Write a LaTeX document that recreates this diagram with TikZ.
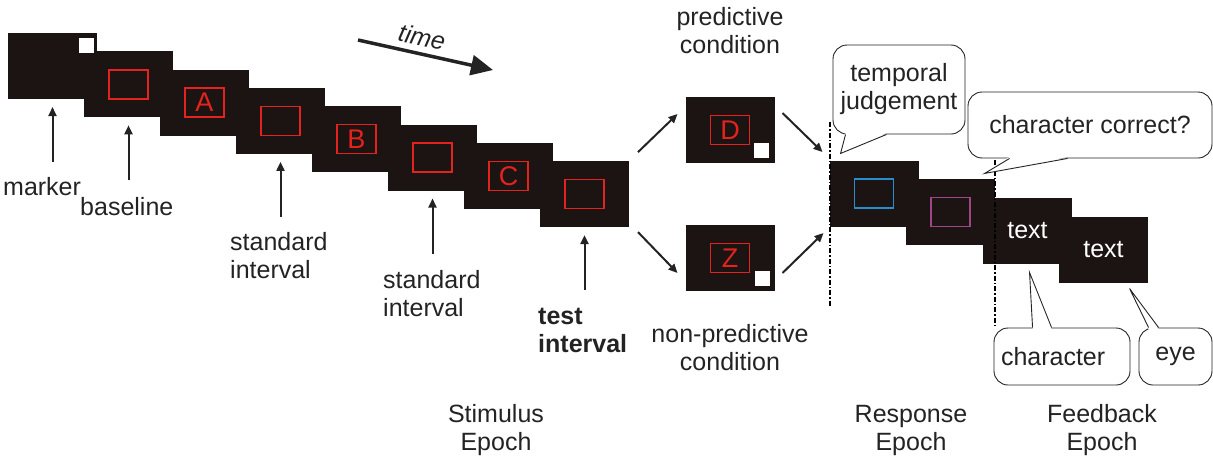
\documentclass[tikz,border=0pt]{standalone}
\usepackage{fontspec}
\setmainfont{Liberation Sans}
\usetikzlibrary{arrows.meta,calc}
\definecolor{scr}{RGB}{28,20,18}
\definecolor{redc}{RGB}{228,34,30}
\definecolor{bluec}{RGB}{40,140,205}
\definecolor{purc}{RGB}{160,70,135}
\definecolor{txt}{RGB}{35,35,35}
\newcommand\labfont{\fontsize{25}{28}\selectfont}
\begin{document}
\begin{tikzpicture}[x=1pt,y=-1pt,font=\labfont,text=txt,
  screen/.style={fill=scr,minimum width=89pt,minimum height=66pt,inner sep=0pt,outer sep=0pt},
  rbox/.style={draw=redc,line width=1.4pt,minimum width=39pt,minimum height=29pt,inner sep=0pt,text=redc,font=\fontsize{27}{27}\selectfont},
  cbox/.style={line width=1.4pt,minimum width=39pt,minimum height=29pt,inner sep=0pt},
  wsq/.style={fill=white,minimum width=15pt,minimum height=15pt,inner sep=0pt},
  upar/.style={draw=txt,line width=2pt,-{Triangle[length=9pt,width=8pt]}},
  dar/.style={draw=txt,line width=2pt,-{Triangle[length=9pt,width=8pt]}},
  lab/.style={anchor=base west,inner sep=0pt,align=left},
  clab/.style={anchor=base,inner sep=0pt,align=center},
  callout/.style={draw=txt,line width=0.9pt,fill=white,rounded corners=14pt,inner sep=0pt,align=center},
  tail/.style={draw=txt,line width=0.9pt,line join=miter},
  ddline/.style={draw=black,line width=1.5pt,dash pattern=on 5pt off 2pt on 1.5pt off 2pt}]
\useasboundingbox (0,0) rectangle (1213,458);

% stimulus screens
\node[screen] (s1) at (52.5,66) {};
\node[screen] (s2) at (128.5,84.3) {};
\node[screen] (s3) at (204.5,102.6) {};
\node[screen] (s4) at (280.5,120.9) {};
\node[screen] (s5) at (356.5,139.2) {};
\node[screen] (s6) at (432.5,157.5) {};
\node[screen] (s7) at (508.5,175.8) {};
\node[screen] (s8) at (584.5,194.1) {};
\node[wsq] (m1) at ($(s1.north east)+(-10.5,12)$) {};
\node[rbox] (r2) at (s2) {};
\node[rbox] (r3) at (s3) {A};
\node[rbox] (r4) at (s4) {};
\node[rbox] (r5) at (s5) {B};
\node[rbox] (r6) at (s6) {};
\node[rbox] (r7) at (s7) {C};
\node[rbox] (r8) at (s8) {};

% condition screens
\node[screen] (D) at (730,130) {};
\node[rbox] (rD) at (D) {D};
\node[wsq] (mD) at ($(D.south east)+(-13,-12.5)$) {};
\node[screen] (Z) at (730,258) {};
\node[rbox] (rZ) at (Z) {Z};
\node[wsq] (mZ) at ($(Z.south east)+(-12.5,-12.5)$) {};

% response and feedback screens
\node[screen] (R1) at (874,193.5) {};
\node[cbox,draw=bluec] (rR1) at (R1) {};
\node[screen] (R2) at (950.5,212) {};
\node[cbox,draw=purc] (rR2) at (R2) {};
\node[screen,text=white] (F1) at (1027.5,230.5) {text};
\node[screen,text=white] (F2) at (1103.5,249.5) {text};

% dash-dot separators
\coordinate (d1a) at (830,122);
\coordinate (d1b) at (830,307);
\coordinate (d2a) at (995,160);
\coordinate (d2b) at (995,325);
\draw[ddline] (d1a) -- (d1b);
\draw[ddline] (d2a) -- (d2b);

% time arrow
\coordinate (ta) at (358,40);
\coordinate (tb) at (493,70);
\draw[draw=txt,line width=3.5pt,-{Triangle[length=22pt,width=20pt]}] (ta) -- (tb);
\node[rotate=-12.5,inner sep=0pt,font=\labfont\itshape] (time) at (422,37) {time};

% upward arrows and labels
\coordinate (t1) at ($(s1.south)+(0,63)$);
\coordinate (t2) at ($(s2.south)+(0,63)$);
\coordinate (t4) at ($(s4.south)+(0,63)$);
\coordinate (t6) at ($(s6.south)+(0,63)$);
\coordinate (t8) at ($(s8.south)+(0,63)$);
\draw[upar,shorten >=8pt] (t1) -- (s1.south);
\draw[upar,shorten >=8pt] (t2) -- (s2.south);
\draw[upar,shorten >=8pt] (t4) -- (s4.south);
\draw[upar,shorten >=8pt] (t6) -- (s6.south);
\draw[upar,shorten >=8pt] (t8) -- (s8.south);
\node[lab] (lmarker) at (3,195) {marker};
\node[lab] (lbase) at (80,215) {baseline};
\node[lab] (lstd1) at (230,278) {standard\\interval};
\node[lab] (lstd2) at (383,316) {standard\\interval};
\node[lab,font=\labfont\bfseries] (ltest) at (538,352) {test\\interval};

% branch arrows
\draw[dar] ($(s8.north east)+(9,-9)$) -- ($(D.west)+(-8,-16)$);
\draw[dar] ($(s8.south east)+(9,5)$) -- ($(Z.west)+(-8,15)$);
\draw[dar] ($(D.east)+(8,-17)$) -- ($(R1.west)+(-7,-41.5)$);
\draw[dar] ($(Z.east)+(8,15)$) -- ($(R1.west)+(-6,39.5)$);

\node[clab] (lpred) at (730,53) {predictive\\condition};
\node[clab] (lnpred) at (730,370) {non-predictive\\condition};

% callouts
\node[callout,minimum width=132pt,minimum height=89pt] (tj) at (899,89.5) {temporal\\judgement};
\fill[white] ($(tj.south west)+(13,-1.5)$) -- ($(tj.south west)+(8,19)$) -- ($(tj.south west)+(54,-1.5)$) -- cycle;
\draw[tail] ($(tj.south west)+(13,0)$) -- ($(tj.south west)+(8,19)$) -- ($(tj.south west)+(54,0)$);

\node[callout,minimum width=244pt,minimum height=66pt] (cc) at (1090,125) {character correct?};
\fill[white] ($(cc.south west)+(42,-1.5)$) -- ($(cc.south west)+(17,15)$) -- ($(cc.south west)+(100,-1.5)$) -- cycle;
\draw[tail] ($(cc.south west)+(42,0)$) -- ($(cc.south west)+(17,15)$) -- ($(cc.south west)+(100,0)$);

\node[callout,minimum width=136pt,minimum height=57pt,text width=122pt,align=left] (ch) at (1062,356.5) {character};
\fill[white] ($(ch.north west)+(39,1.5)$) -- ($(ch.north west)+(36,-55)$) -- ($(ch.north west)+(58,1.5)$) -- cycle;
\draw[tail] ($(ch.north west)+(39,0)$) -- ($(ch.north west)+(36,-55)$) -- ($(ch.north west)+(58,0)$);

\node[callout,minimum width=73pt,minimum height=57pt] (ey) at (1175.5,356.5) {eye};
\fill[white] ($(ey.north west)+(10,1.5)$) -- ($(ey.north west)+(-9,-39)$) -- ($(ey.north west)+(20,1.5)$) -- cycle;
\draw[tail] ($(ey.north west)+(10,0)$) -- ($(ey.north west)+(-9,-39)$) -- ($(ey.north west)+(20,0)$);

% epoch labels
\node[clab] (lstim) at (496,450) {Stimulus\\Epoch};
\node[clab] (lresp) at (911,450) {Response\\Epoch};
\node[clab] (lfeed) at (1102,450) {Feedback\\Epoch};
\end{tikzpicture}
\end{document}
